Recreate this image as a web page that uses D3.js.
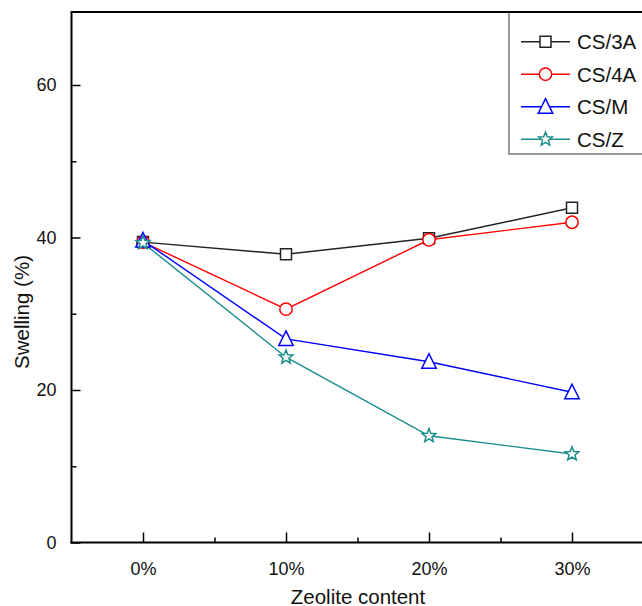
<!DOCTYPE html>
<html><head><meta charset="utf-8">
<script src="https://cdn.jsdelivr.net/npm/d3@7"></script>
<style>body{margin:0;background:#fff}svg{display:block}text{font-family:"Liberation Sans",Arial,sans-serif}</style>
</head><body>
<svg id="c" width="642" height="606"></svg>
<script>
const categories = ["0%", "10%", "20%", "30%"];
const seriesNames = ["CS/3A", "CS/4A", "CS/M", "CS/Z"];
const cs3A = [39.4, 37.8, 39.9, 43.9];
const cs4A = [39.4, 30.6, 39.7, 42.0];
const csM  = [39.6, 26.7, 23.7, 19.7];
const csZ  = [39.3, 24.3, 14.0, 11.6];
const yTicks = [0, 20, 40, 60];
const yMinor = [10, 30, 50];
const colors = ["#222222", "#ff0000", "#0000ff", "#1a8c8c"];
const shapes = ["square", "circle", "triangle", "star"];
const seriesValues = [cs3A, cs4A, csM, csZ];

const svg = d3.select("#c");
const L = 71.5, R = 643.5, T = 12, B = 542.5;
const x = d3.scaleLinear().domain([-0.5, 3.5]).range([L, R]);
const y = d3.scaleLinear().domain([0, (B - T) / 7.625]).range([B, T]);

function markerPath(shape) {
  if (shape === "square") return "M-5.5,-5.5H5.5V5.5H-5.5Z";
  if (shape === "circle") return d3.symbol(d3.symbolCircle, Math.PI * 6.2 * 6.2)();
  if (shape === "triangle") return "M0,-8L7.2,6.5L-7.2,6.5Z";
  // star
  let p = "";
  for (let i = 0; i < 10; i++) {
    const r = i % 2 === 0 ? 7.2 : 3.1;
    const a = -Math.PI / 2 + i * Math.PI / 5;
    p += (i ? "L" : "M") + (r * Math.cos(a)).toFixed(2) + "," + (r * Math.sin(a)).toFixed(2);
  }
  return p + "Z";
}

// frame
svg.append("line").attr("x1", L).attr("x2", 660).attr("y1", T).attr("y2", T)
  .attr("stroke", "#000").attr("stroke-width", 2);

// axes
const yAxis = d3.axisLeft(y).tickValues(yTicks).tickSize(-9).tickPadding(15).tickFormat(d3.format("d"));
const gy = svg.append("g").attr("transform", `translate(${L},0)`).call(yAxis);
gy.select(".domain").remove();
gy.selectAll(".tick line").attr("stroke", "#000").attr("stroke-width", 1.5);
gy.selectAll("text").attr("font-size", 18).attr("fill", "#111");
svg.append("g").attr("transform", `translate(${L},0)`)
  .call(d3.axisLeft(y).tickValues(yMinor).tickSize(-5).tickFormat(""))
  .call(g => { g.select(".domain").remove(); g.selectAll("line").attr("stroke", "#000").attr("stroke-width", 1.5); });

const xAxis = d3.axisBottom(x).tickValues([0, 1, 2, 3]).tickSize(-10).tickPadding(20)
  .tickFormat(i => categories[i]);
const gx = svg.append("g").attr("transform", `translate(0,${B})`).call(xAxis);
gx.select(".domain").remove();
gx.selectAll(".tick line").attr("stroke", "#000").attr("stroke-width", 1.5);
gx.selectAll("text").attr("font-size", 18).attr("fill", "#111");
svg.append("g").attr("transform", `translate(0,${B})`)
  .call(d3.axisBottom(x).tickValues([0.5, 1.5, 2.5]).tickSize(-5).tickFormat(""))
  .call(g => { g.select(".domain").remove(); g.selectAll("line").attr("stroke", "#000").attr("stroke-width", 1.5); });

svg.append("line").attr("x1", L).attr("x2", L).attr("y1", T - 1).attr("y2", B + 1)
  .attr("stroke", "#000").attr("stroke-width", 2);
svg.append("line").attr("x1", L - 1).attr("x2", 660).attr("y1", B).attr("y2", B)
  .attr("stroke", "#000").attr("stroke-width", 2);

// titles
svg.append("text").attr("x", 358).attr("y", 604).attr("text-anchor", "middle")
  .attr("font-size", 20.5).attr("fill", "#111").text("Zeolite content");
svg.append("text").attr("transform", "translate(29,312) rotate(-90)").attr("text-anchor", "middle")
  .attr("font-size", 20.5).attr("fill", "#111").text("Swelling (%)");

// series
const line = d3.line().x((d, i) => x(i)).y(d => y(d));
seriesValues.forEach((vals, s) => {
  svg.append("path").attr("d", line(vals)).attr("fill", "none")
    .attr("stroke", colors[s]).attr("stroke-width", 1.4);
});
seriesValues.forEach((vals, s) => {
  svg.selectAll(null).data(vals).enter().append("path")
    .attr("d", markerPath(shapes[s]))
    .attr("transform", (d, i) => `translate(${x(i)},${y(d)})`)
    .attr("fill", "#fff").attr("stroke", colors[s]).attr("stroke-width", 1.5);
});

// legend
const lg = svg.append("g");
lg.append("rect").attr("x", 509).attr("y", T).attr("width", 160).attr("height", 142)
  .attr("fill", "#fff").attr("stroke", "#555").attr("stroke-width", 1.2);
svg.append("line").attr("x1", L).attr("x2", 660).attr("y1", T).attr("y2", T)
  .attr("stroke", "#000").attr("stroke-width", 2);
seriesNames.forEach((n, s) => {
  const yy = 41.7 + s * 32.5;
  lg.append("line").attr("x1", 521).attr("x2", 570).attr("y1", yy).attr("y2", yy)
    .attr("stroke", colors[s]).attr("stroke-width", 1.4);
  lg.append("path").attr("d", markerPath(shapes[s])).attr("transform", `translate(545.5,${yy})`)
    .attr("fill", "#fff").attr("stroke", colors[s]).attr("stroke-width", 1.5);
  lg.append("text").attr("x", 577).attr("y", yy + 7.5).attr("font-size", 20.5).attr("fill", "#111").text(n);
});
</script>
</body></html>
